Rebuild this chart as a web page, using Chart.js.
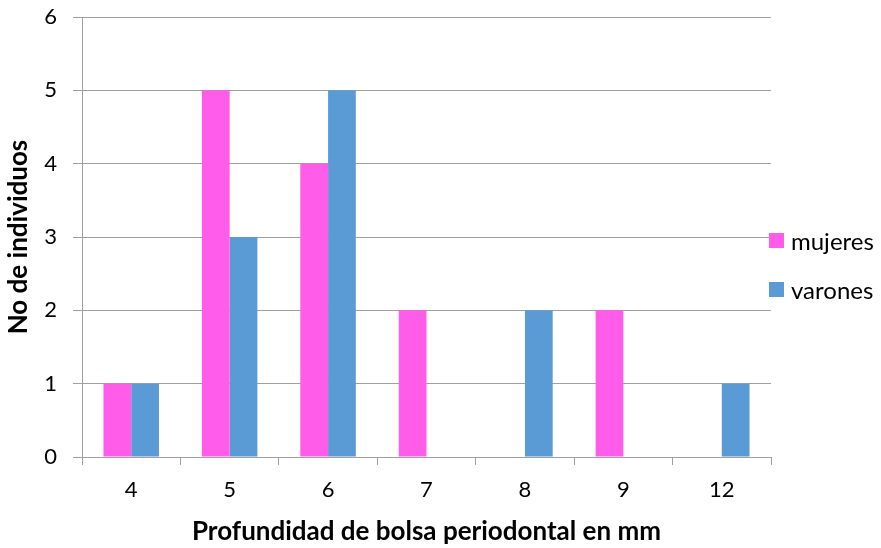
<!DOCTYPE html>
<html>
<head>
<meta charset="utf-8">
<script src="https://cdn.jsdelivr.net/npm/chart.js@4/dist/chart.umd.min.js"></script>
<style>
  html, body { margin: 0; padding: 0; background: #ffffff; }
  #wrap { position: relative; width: 881px; height: 548px; }
  #legend { position: absolute; left: 769px; top: 233px; font-family: Lato, "Open Sans", sans-serif; font-size: 24px; color: #000; }
  .item { position: relative; height: 15px; margin-bottom: 34px; white-space: nowrap; }
  .sw { position: absolute; left: 0; top: 0; width: 15px; height: 15px; }
  .lbl { position: absolute; left: 22px; top: -7px; line-height: 29px; }
</style>
</head>
<body>
<div id="wrap">
  <canvas id="c" width="881" height="548"></canvas>
  <div id="legend"></div>
</div>
<script>
const categories = ['4', '5', '6', '7', '8', '9', '12'];
const mujeres = [1, 5, 4, 2, 0, 2, 0];
const varones = [1, 3, 5, 0, 2, 0, 1];
const seriesNames = ['mujeres', 'varones'];
const seriesColors = ['#FF5DE9', '#5B9BD5'];
const xTitle = 'Profundidad de bolsa periodontal en mm';
const yTitle = 'No de individuos';

const FONT = 'Lato, "Open Sans", sans-serif';
const GRID = '#A0A0A0';

const chart = new Chart(document.getElementById('c'), {
  type: 'bar',
  data: {
    labels: categories,
    datasets: [
      { label: seriesNames[0], data: mujeres, backgroundColor: seriesColors[0], borderWidth: 0, categoryPercentage: 0.564, barPercentage: 1.0 },
      { label: seriesNames[1], data: varones, backgroundColor: seriesColors[1], borderWidth: 0, categoryPercentage: 0.564, barPercentage: 1.0 }
    ]
  },
  options: {
    responsive: false,
    animation: false,
    layout: { padding: { top: 17, right: 110, left: 0, bottom: 0 } },
    plugins: { legend: { display: false }, tooltip: { enabled: false } },
    scales: {
      x: {
        offset: true,
        grid: { offset: true, drawOnChartArea: false, drawTicks: true, tickLength: 8, color: GRID, lineWidth: 1 },
        border: { display: true, color: GRID, width: 1 },
        ticks: { color: '#000', font: { family: FONT, size: 22 }, padding: 12, maxRotation: 0 },
        title: { display: true, text: xTitle, color: '#000', font: { family: FONT, size: 26, weight: 'bold' }, padding: { top: 0, bottom: 1 } },
        afterFit: s => { s.height = 91; s.paddingLeft = 0; s.paddingRight = 0; }
      },
      y: {
        min: 0, max: 6,
        ticks: { stepSize: 1, color: '#000', font: { family: FONT, size: 22 }, padding: 16 },
        grid: { color: GRID, lineWidth: 1, drawTicks: true, tickLength: 9 },
        border: { display: true, color: GRID, width: 1 },
        title: { display: true, text: yTitle, color: '#000', font: { family: FONT, size: 26, weight: 'bold' }, padding: { top: 3, bottom: 0 } },
        afterFit: s => { s.width = 82; s.paddingTop = 0; s.paddingBottom = 0; }
      }
    }
  }
});

const legend = document.getElementById('legend');
chart.data.datasets.forEach(ds => {
  const item = document.createElement('div');
  item.className = 'item';
  const sw = document.createElement('span');
  sw.className = 'sw';
  sw.style.background = ds.backgroundColor;
  const lbl = document.createElement('span');
  lbl.className = 'lbl';
  lbl.textContent = ds.label;
  item.appendChild(sw);
  item.appendChild(lbl);
  legend.appendChild(item);
});
</script>
</body>
</html>
